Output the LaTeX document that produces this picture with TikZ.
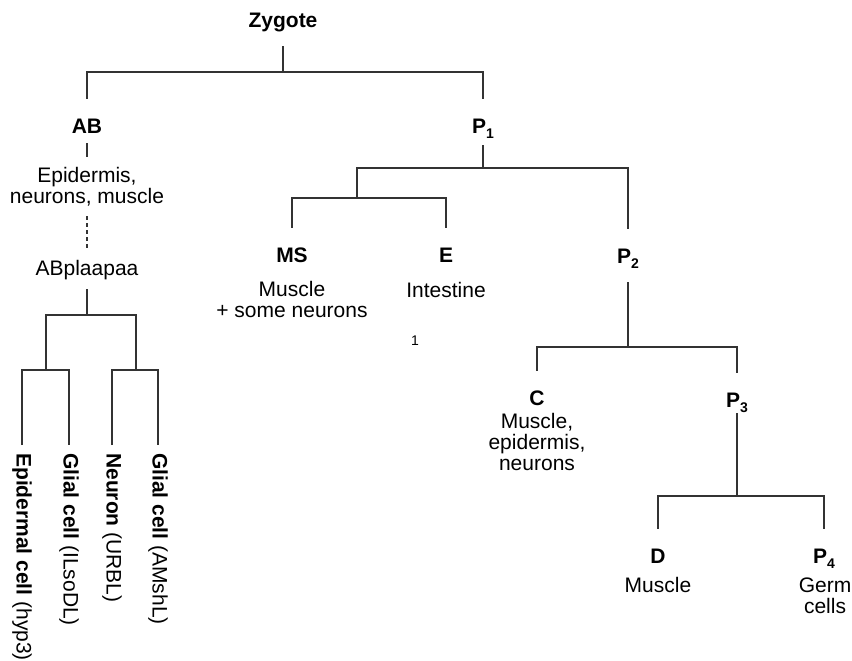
\documentclass[tikz,border=0pt]{standalone}
\usepackage{fontspec}
\setmainfont{Liberation Sans}
\usepackage{tikz}
\usetikzlibrary{calc}

\newcommand{\cellsub}[1]{\raisebox{-5pt}{\fontsize{14}{14}\selectfont #1}}

\begin{document}
\begin{tikzpicture}[x=1pt, y=-1pt,
  cell/.style={font=\fontsize{21}{21}\selectfont\bfseries, inner sep=0pt, anchor=base, text height=34pt, text depth=10pt},
  fate/.style={font=\fontsize{21}{21}\selectfont, inner sep=0pt, align=center, anchor=base},
  leaf/.style={font=\fontsize{21}{21}\selectfont, rotate=-90, anchor=west, inner xsep=8pt, inner ysep=0pt},
  tree/.style={line width=1.2pt, black!80}]
\useasboundingbox (0,0) rectangle (852,661);

% founder cells
\node[cell, text depth=18pt] (zyg) at (283,28) {Zygote};
\node[cell] (ab) at (87,133) {AB};
\node[cell, text depth=12pt] (p1) at (483,133) {P\cellsub{1}};
\node[cell] (ms) at (292,262) {MS};
\node[cell] (e) at (446,262) {E};
\node[cell, text depth=19pt] (p2) at (628,263) {P\cellsub{2}};
\node[cell] (c) at (537,405) {C};
\node[cell, text depth=6pt] (p3) at (737,407) {P\cellsub{3}};
\node[cell] (d) at (658,563) {D};
\node[cell] (p4) at (824,563) {P\cellsub{4}};

% what each lineage makes (base = last line)
\node[fate, anchor=north, inner ysep=10pt] (abdesc) at (87,157) {Epidermis,\\neurons, muscle};
\node[fate, text height=26pt, text depth=14pt] (abpl) at (87,275) {ABplaapaa};
\node[fate] (msdesc) at (292,317) {Muscle\\+ some neurons};
\node[fate] (edesc) at (446,297) {Intestine};
\node[fate] (cdesc) at (537,470) {Muscle,\\epidermis,\\neurons};
\node[fate] (ddesc) at (658,592) {Muscle};
\node[fate] (p4desc) at (825,613) {Germ\\cells};
\node[font=\fontsize{14}{14}\selectfont, inner sep=0pt, anchor=base] (one) at (415,345) {1};

% single cells from ABplaapaa
\node[leaf] (l1) at (22,445) {\textbf{Epidermal cell} (hyp3)};
\node[leaf] (l2) at (69,445) {\textbf{Glial cell} (ILsoDL)};
\node[leaf] (l3) at (112,445) {\textbf{Neuron} (URBL)};
\node[leaf] (l4) at (158,445) {\textbf{Glial cell} (AMshL)};

% branch points
\coordinate (b1) at (283,72);
\coordinate (b2) at (483,168);
\coordinate (j3) at (357,198);
\coordinate (b3) at (628,347);
\coordinate (b4) at (737,496);
\coordinate (b5) at (87,315);
\coordinate (j1) at (46,370);
\coordinate (j2) at (136,370);

% lineage tree
\draw[tree] (zyg.south) -- (b1);
\draw[tree] (ab.north) |- (b1) -| (p1.north);
\draw[tree] (p1.south) -- (b2);
\draw[tree] (j3) |- (b2) -| (p2.north);
\draw[tree] (ms.north) |- (j3) -| (e.north);
\draw[tree] (p2.south) -- (b3);
\draw[tree] (c.north) |- (b3) -| (p3.north);
\draw[tree] (p3.south) -- (b4);
\draw[tree] (d.north) |- (b4) -| (p4.north);

\draw[tree] (ab.south) -- (abdesc.north);
\draw[tree, dash pattern=on 4pt off 3pt] (abdesc.south) -- (abpl.north);
\draw[tree] (abpl.south) -- (b5);
\draw[tree] (j1) |- (b5) -| (j2);
\draw[tree] (l1.west) |- (j1) -| (l2.west);
\draw[tree] (l3.west) |- (j2) -| (l4.west);
\end{tikzpicture}
\end{document}
